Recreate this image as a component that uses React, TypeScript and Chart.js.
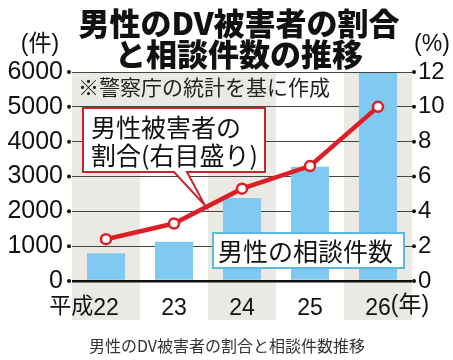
import React, { useEffect, useRef } from 'react';
import { Chart, registerables } from 'chart.js';

Chart.register(...registerables);

// ---- data ----
const years = ['22', '23', '24', '25', '26'];
const yearPrefix = '平成';
const yearSuffix = '(年)';
const consultations = [800, 1130, 2380, 3280, 5970];
const malePct = [2.4, 3.3, 5.3, 6.6, 10.0];
const countMax = 6000;
const countStep = 1000;
const pctMax = 12;
const pctStep = 2;
const titleLines = ['男性のDV被害者の割合', 'と相談件数の推移'];
const leftUnit = '(件)';
const rightUnit = '(%)';
const noteText = '※警察庁の統計を基に作成';
const lineLabel = ['男性被害者の', '割合(右目盛り)'];
const barLabel = '男性の相談件数';
const caption = '男性のDV被害者の割合と相談件数推移';

const NUM_FONT = '"Liberation Sans", "Noto Sans CJK JP", sans-serif';
const JP_FONT = '"Noto Sans CJK JP", "Liberation Sans", sans-serif';

const BAND = '#ebe9e3';
const BAR = '#80c9f0';
const RED = '#dc1f26';
const BOX_RED = '#c4262c';
const BOX_BLUE = '#5cb8dd';

const LABEL_Y = 306;

const decor = {
  id: 'decor',
  beforeDraw(chart: any) {
    const { ctx, chartArea, scales } = chart;
    const x = scales.x;
    const y = scales.y;
    const w = (chartArea.right - chartArea.left) / years.length;
    ctx.save();
    ctx.fillStyle = BAND;
    for (let i = 0; i < years.length; i += 2) {
      const cx = x.getPixelForValue(i);
      ctx.fillRect(cx - w / 2, chartArea.top, w, 320 - chartArea.top);
    }
    // note background
    ctx.fillRect(chartArea.left, chartArea.top, 3 * w, y.getPixelForValue(5000) - chartArea.top);
    ctx.restore();
  },
  afterDraw(chart: any) {
    const { ctx, chartArea, scales } = chart;
    const x = scales.x;
    const y = scales.y;
    const y1 = scales.y1;
    ctx.save();

    // title
    ctx.fillStyle = '#111';
    ctx.textAlign = 'center';
    ctx.textBaseline = 'middle';
    ctx.font = `900 31px ${JP_FONT}`;
    ctx.fillText(titleLines[0], 239, 23);
    ctx.fillText(titleLines[1], 239, 54);

    // units
    ctx.font = `23px ${NUM_FONT}`;
    ctx.fillText(leftUnit, 40, 45);
    ctx.fillText(rightUnit, 432, 45);

    // axis dots
    ctx.fillStyle = '#111';
    y.ticks.forEach((t: any) => {
      const py = y.getPixelForValue(t.value);
      ctx.beginPath();
      ctx.arc(chartArea.left - 3, py, 2, 0, Math.PI * 2);
      ctx.fill();
    });
    y1.ticks.forEach((t: any) => {
      const py = y1.getPixelForValue(t.value);
      ctx.beginPath();
      ctx.arc(chartArea.right + 2, py, 2, 0, Math.PI * 2);
      ctx.fill();
    });

    // note
    ctx.font = `21px ${JP_FONT}`;
    ctx.textAlign = 'left';
    ctx.fillStyle = '#222';
    ctx.fillText(noteText, 78, 87);

    // x label prefix / suffix
    ctx.font = `23px ${NUM_FONT}`;
    ctx.fillStyle = '#111';
    const firstX = x.getPixelForValue(0);
    const lastX = x.getPixelForValue(years.length - 1);
    const w0 = ctx.measureText(years[0]).width;
    const w4 = ctx.measureText(years[years.length - 1]).width;
    ctx.textAlign = 'right';
    ctx.font = `22px ${JP_FONT}`;
    ctx.fillText(yearPrefix, firstX - w0 / 2, LABEL_Y - 1);
    ctx.textAlign = 'left';
    ctx.font = `23px ${NUM_FONT}`;
    ctx.fillText(yearSuffix, lastX + w4 / 2, LABEL_Y);

    // line callout box
    const m = chart.getDatasetMeta(0).data;
    const p1 = m[1];
    const p2 = m[2];
    const t = 0.45;
    const tipX = p1.x + (p2.x - p1.x) * t;
    const tipY = p1.y + (p2.y - p1.y) * t - 3;
    ctx.beginPath();
    ctx.moveTo(83, 108);
    ctx.lineTo(265, 108);
    ctx.lineTo(265, 172);
    ctx.lineTo(187, 172);
    ctx.lineTo(tipX, tipY);
    ctx.lineTo(174, 172);
    ctx.lineTo(83, 172);
    ctx.closePath();
    ctx.fillStyle = '#fff';
    ctx.fill();
    ctx.lineWidth = 2;
    ctx.strokeStyle = BOX_RED;
    ctx.stroke();
    ctx.fillStyle = '#111';
    ctx.font = `25px ${JP_FONT}`;
    ctx.textAlign = 'left';
    ctx.fillText(lineLabel[0], 91, 127);
    ctx.fillText(lineLabel[1], 91, 155);

    // bar callout box
    ctx.fillStyle = '#fff';
    ctx.fillRect(213, 233, 191, 35);
    ctx.strokeStyle = BOX_BLUE;
    ctx.lineWidth = 2;
    ctx.strokeRect(213, 233, 191, 35);
    ctx.fillStyle = '#111';
    ctx.font = `25px ${JP_FONT}`;
    ctx.fillText(barLabel, 218, 251);

    // caption
    ctx.font = `16px ${JP_FONT}`;
    ctx.fillStyle = '#333';
    ctx.textAlign = 'center';
    ctx.fillText(caption, 227, 346);

    ctx.restore();
  },
};

export default function App() {
  const ref = useRef<HTMLCanvasElement>(null);
  useEffect(() => {
    const chart = new Chart(ref.current as HTMLCanvasElement, {
      type: 'bar',
      data: {
        labels: years,
        datasets: [
          {
            type: 'line',
            label: lineLabel.join(''),
            data: malePct,
            yAxisID: 'y1',
            order: 0,
            borderColor: RED,
            borderWidth: 4.5,
            pointRadius: 5,
            pointBorderWidth: 2.5,
            pointBackgroundColor: '#fff',
            pointBorderColor: RED,
            tension: 0,
          } as any,
          {
            type: 'bar',
            label: barLabel,
            data: consultations,
            yAxisID: 'y',
            order: 1,
            backgroundColor: BAR,
            borderWidth: 0,
            barPercentage: 1,
            categoryPercentage: 0.56,
          } as any,
        ],
      },
      options: {
        responsive: false,
        animation: false,
        devicePixelRatio: 1,
        layout: { padding: { top: 72, left: 0, right: 0, bottom: 0 } },
        plugins: { legend: { display: false }, tooltip: { enabled: false }, title: { display: false } },
        scales: {
          x: {
            type: 'category',
            grid: { display: false, drawTicks: false },
            border: { display: false },
            ticks: { color: '#111', font: { family: NUM_FONT, size: 23 }, padding: 14, maxRotation: 0 },
            afterFit: (s: any) => { s.height = 79; },
          },
          y: {
            position: 'left',
            min: 0,
            max: countMax,
            ticks: {
              stepSize: countStep,
              color: '#111',
              font: { family: NUM_FONT, size: 25 },
              padding: 9,
              callback: (v: any) => String(v),
            },
            grid: {
              drawTicks: false,
              color: (c: any) => (c.tick && c.tick.value === 0 ? '#111' : '#444'),
              lineWidth: (c: any) => (c.tick && c.tick.value === 0 ? 2.5 : 1),
            },
            border: { display: false },
            afterFit: (s: any) => { s.width = 72; },
          },
          y1: {
            position: 'right',
            min: 0,
            max: pctMax,
            ticks: {
              stepSize: pctStep,
              color: '#111',
              font: { family: NUM_FONT, size: 24 },
              padding: 6,
              callback: (v: any) => String(v),
            },
            grid: { drawOnChartArea: false, drawTicks: false },
            border: { display: false },
            afterFit: (s: any) => { s.width = 41; },
          },
        },
      },
      plugins: [decor],
    });
    return () => chart.destroy();
  }, []);
  return (
    <div style={{ position: 'absolute', left: 0, top: 0, width: 453, height: 360, background: '#fff' }}>
      <canvas ref={ref} width={453} height={360} style={{ display: 'block' }} />
    </div>
  );
}
